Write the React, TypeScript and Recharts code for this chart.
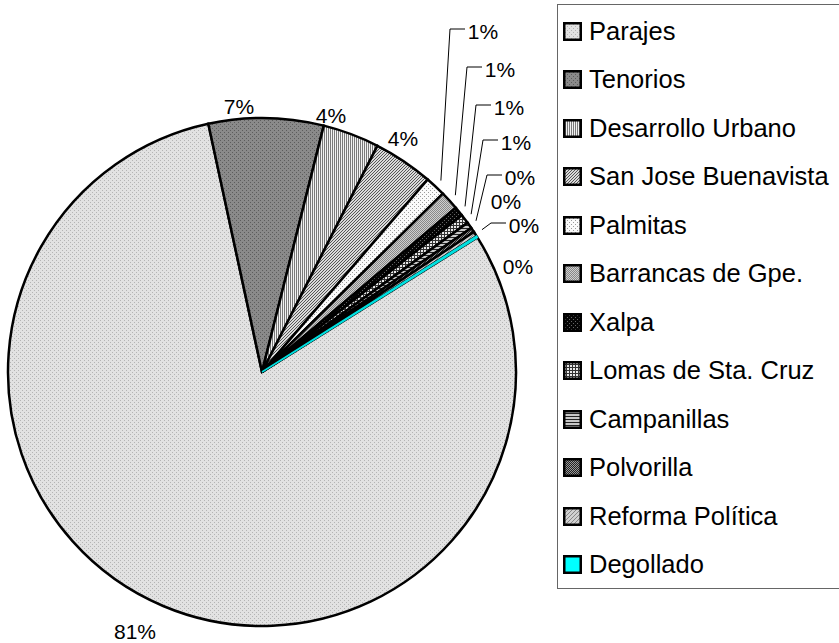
import { PieChart, Pie, Cell, Legend } from "recharts";

// Zones and their share of the total (in %)
const zones = [
  "Parajes", "Tenorios", "Desarrollo Urbano", "San Jose Buenavista", "Palmitas",
  "Barrancas de Gpe.", "Xalpa", "Lomas de Sta. Cruz", "Campanillas", "Polvorilla",
  "Reforma Política", "Degollado",
];
const shares = [80.5, 7.3, 3.6, 3.8, 1.3, 1.2, 0.6, 0.6, 0.4, 0.3, 0.3, 0.1];

const data = zones.map((name, i) => ({ name, value: shares[i] }));

// Excel-ish pattern fills, one per zone
const FILLS = zones.map((_, i) => (i === 11 ? "#00ffff" : `url(#pat${i})`));

// where each percentage label sits, relative to the pie centre
const LABEL_AT: [number, number][] = [
  [-127, 259], [-23, -266], [69, -257], [141, -234],
  [221, -341], [238, -303], [247, -265], [254, -230],
  [258, -195], [244, -171], [262, -147], [256, -106],
];
const WITH_LEADER = [4, 5, 6, 7, 8, 10];

const FONT = "'Liberation Sans', Arial, sans-serif";
const RAD = Math.PI / 180;
const CX = 262;
const CY = 372;

function Patterns() {
  return (
    <svg width={0} height={0} style={{ position: "absolute" }}>
      <defs>
        <pattern id="pat0" width={4} height={4} patternUnits="userSpaceOnUse">
          <rect width={4} height={4} fill="#e2e2e2" />
          <rect x={0} y={0} width={1} height={1} fill="#b4b4b4" />
          <rect x={2} y={2} width={1} height={1} fill="#b4b4b4" />
        </pattern>
        <pattern id="pat1" width={4} height={4} patternUnits="userSpaceOnUse">
          <rect width={4} height={4} fill="#8a8a8a" />
          <rect x={0} y={0} width={1} height={1} fill="#5c5c5c" />
          <rect x={2} y={2} width={1} height={1} fill="#5c5c5c" />
        </pattern>
        <pattern id="pat2" width={2} height={2} patternUnits="userSpaceOnUse">
          <rect width={2} height={2} fill="#f2f2f2" />
          <rect x={0} y={0} width={1} height={2} fill="#7a7a7a" />
        </pattern>
        <pattern id="pat3" width={3} height={3} patternUnits="userSpaceOnUse">
          <rect width={3} height={3} fill="#dadada" />
          <rect x={0} y={2} width={1} height={1} fill="#555" />
          <rect x={1} y={1} width={1} height={1} fill="#555" />
          <rect x={2} y={0} width={1} height={1} fill="#555" />
        </pattern>
        <pattern id="pat4" width={4} height={4} patternUnits="userSpaceOnUse">
          <rect width={4} height={4} fill="#fafafa" />
          <rect x={0} y={0} width={1} height={1} fill="#999" />
          <rect x={2} y={2} width={1} height={1} fill="#999" />
        </pattern>
        <pattern id="pat5" width={2} height={2} patternUnits="userSpaceOnUse">
          <rect width={2} height={2} fill="#cfcfcf" />
          <rect x={0} y={0} width={1} height={1} fill="#888" />
          <rect x={1} y={1} width={1} height={1} fill="#888" />
        </pattern>
        <pattern id="pat6" width={4} height={4} patternUnits="userSpaceOnUse">
          <rect width={4} height={4} fill="#050505" />
          <rect x={0} y={0} width={1} height={1} fill="#666" />
          <rect x={2} y={2} width={1} height={1} fill="#666" />
        </pattern>
        <pattern id="pat7" width={3} height={3} patternUnits="userSpaceOnUse">
          <rect width={3} height={3} fill="#e8e8e8" />
          <rect x={0} y={0} width={3} height={1} fill="#333" />
          <rect x={0} y={0} width={1} height={3} fill="#333" />
        </pattern>
        <pattern id="pat8" width={3} height={3} patternUnits="userSpaceOnUse">
          <rect width={3} height={3} fill="#c8c8c8" />
          <rect x={0} y={0} width={3} height={1} fill="#222" />
        </pattern>
        <pattern id="pat9" width={2} height={2} patternUnits="userSpaceOnUse">
          <rect width={2} height={2} fill="#999" />
          <rect x={0} y={0} width={1} height={1} fill="#222" />
          <rect x={1} y={1} width={1} height={1} fill="#222" />
        </pattern>
        <pattern id="pat10" width={4} height={4} patternUnits="userSpaceOnUse">
          <rect width={4} height={4} fill="#d2d2d2" />
          <rect x={0} y={3} width={1} height={1} fill="#888" />
          <rect x={1} y={2} width={1} height={1} fill="#888" />
          <rect x={2} y={1} width={1} height={1} fill="#888" />
          <rect x={3} y={0} width={1} height={1} fill="#888" />
        </pattern>
      </defs>
    </svg>
  );
}

function renderLabel(props: any) {
  const { cx, cy, midAngle, outerRadius, percent, index } = props;
  const [dx, dy] = LABEL_AT[index];
  const tx = cx + dx;
  const ty = cy + dy;
  const text = `${Math.round(percent * 100)}%`;
  let leader = null;
  if (WITH_LEADER.includes(index)) {
    const r = outerRadius + 8;
    const sx = cx + r * Math.cos(-midAngle * RAD);
    const sy = cy + r * Math.sin(-midAngle * RAD);
    const left = tx - 15;
    leader = (
      <polyline
        points={`${sx},${sy} ${left - 18},${ty - 2} ${left - 3},${ty - 2}`}
        fill="none"
        stroke="#000"
        strokeWidth={1}
      />
    );
  }
  return (
    <g>
      {leader}
      <text x={tx} y={ty} textAnchor="middle" dominantBaseline="central"
        fontSize={21} fontFamily={FONT} fill="#000">
        {text}
      </text>
    </g>
  );
}

function LegendBox() {
  return (
    <div style={{
      width: 300, height: 585, border: "1px solid #666", boxSizing: "border-box",
      paddingTop: 2, fontFamily: FONT, background: "#fff",
    }}>
      {zones.map((name, i) => (
        <div key={name} style={{ height: 48.5, display: "flex", alignItems: "center" }}>
          <svg width={19} height={19} style={{ marginLeft: 5, marginRight: 7, flex: "none" }}>
            <rect x={1.25} y={1.25} width={16.5} height={16.5} fill={FILLS[i]} stroke="#000" strokeWidth={2.5} />
          </svg>
          <span style={{ fontSize: 25.5, color: "#000", whiteSpace: "nowrap" }}>{name}</span>
        </div>
      ))}
    </div>
  );
}

export default function App() {
  return (
    <div style={{ position: "absolute", left: 0, top: 0, width: 839, height: 643, overflow: "hidden", background: "#fff" }}>
      <Patterns />
      <PieChart width={839} height={643} margin={{ top: 0, right: 0, bottom: 0, left: 0 }}>
        <Pie
          data={data}
          dataKey="value"
          nameKey="name"
          cx={CX}
          cy={CY}
          outerRadius={254}
          startAngle={32}
          endAngle={-328}
          stroke="#000"
          strokeWidth={2.5}
          label={renderLabel}
          labelLine={false}
          isAnimationActive={false}
        >
          {data.map((d, i) => (
            <Cell key={d.name} fill={FILLS[i]}
              stroke={i === 11 ? "#00e0e0" : "#000"}
              strokeWidth={i === 11 ? 1.5 : 2.5} />
          ))}
        </Pie>
        <Legend
          layout="vertical"
          align="right"
          verticalAlign="top"
          content={() => <LegendBox />}
          wrapperStyle={{ left: 557, top: 4, right: "auto", width: 300, height: 585 }}
        />
      </PieChart>
    </div>
  );
}
